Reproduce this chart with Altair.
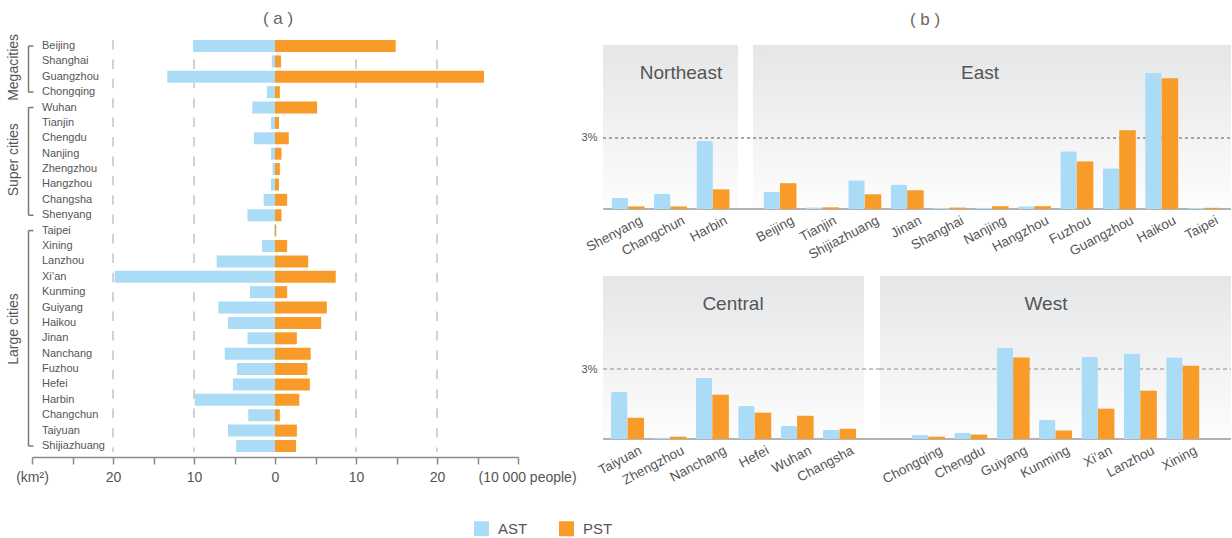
import altair as alt
import pandas as pd

# ---------------- panel (a) data ----------------
cities_a = ["Beijing", "Shanghai", "Guangzhou", "Chongqing", "Wuhan", "Tianjin", "Chengdu",
            "Nanjing", "Zhengzhou", "Hangzhou", "Changsha", "Shenyang", "Taipei", "Xining",
            "Lanzhou", "Xi’an", "Kunming", "Guiyang", "Haikou", "Jinan", "Nanchang", "Fuzhou",
            "Hefei", "Harbin", "Changchun", "Taiyuan", "Shijiazhuang"]
ast_area = [10.1, 0.4, 13.3, 1.0, 2.8, 0.5, 2.6, 0.5, 0.3, 0.5, 1.4, 3.4, 0.1, 1.6,
            7.2, 19.8, 3.1, 7.0, 5.8, 3.4, 6.2, 4.7, 5.2, 9.9, 3.3, 5.8, 4.8]
pst_people = [14.9, 0.75, 25.8, 0.6, 5.2, 0.5, 1.7, 0.8, 0.6, 0.5, 1.5, 0.8, 0.15, 1.5,
              4.1, 7.5, 1.5, 6.4, 5.7, 2.7, 4.4, 4.0, 4.3, 3.0, 0.6, 2.7, 2.6]
group_names = ["Megacities", "Super cities", "Large cities"]
group_first = ["Beijing", "Wuhan", "Taipei"]
group_last = ["Chongqing", "Shenyang", "Shijiazhuang"]
group_mid = ["Shanghai", "Nanjing", "Haikou"]
axis_a_ticks = [-30, -25, -20, -15, -10, -5, 0, 5, 10, 15, 20, 25, 30]
grid_a = [-20, -10, 10, 20]

# ---------------- panel (b) data ----------------
ne_cities = ["Shenyang", "Changchun", "Harbin"]
ne_ast = [0.48, 0.65, 2.87]
ne_pst = [0.11, 0.11, 0.83]
east_cities = ["Beijing", "Tianjin", "Shijiazhuang", "Jinan", "Shanghai", "Nanjing",
               "Hangzhou", "Fuzhou", "Guangzhou", "Haikou", "Taipei"]
east_ast = [0.72, 0.07, 1.21, 1.04, 0.05, 0.06, 0.12, 2.44, 1.72, 5.76, 0.04]
east_pst = [1.09, 0.07, 0.62, 0.79, 0.06, 0.12, 0.12, 2.01, 3.33, 5.52, 0.05]
central_cities = ["Taiyuan", "Zhengzhou", "Nanchang", "Hefei", "Wuhan", "Changsha"]
central_ast = [2.01, 0.06, 2.63, 1.41, 0.56, 0.40]
central_pst = [0.91, 0.10, 1.90, 1.13, 1.00, 0.44]
west_cities = ["Chongqing", "Chengdu", "Guiyang", "Kunming", "Xi’an", "Lanzhou", "Xining"]
west_ast = [0.17, 0.27, 3.90, 0.83, 3.51, 3.66, 3.50]
west_pst = [0.10, 0.19, 3.49, 0.36, 1.30, 2.07, 3.14]

types = ["AST", "PST"]
colors = ["#aadcf7", "#f89b28"]
TXT = "#555555"

color_scale = alt.Scale(domain=types, range=colors)
legend = alt.Legend(orient="none", legendX=442, legendY=486, direction="horizontal",
                    title=None, symbolType="square", symbolSize=225, symbolStrokeWidth=0,
                    labelFontSize=15, labelColor=TXT, labelOffset=9, columnPadding=31)
color_enc = alt.Color("type:N", scale=color_scale, legend=legend)

# ---------------- panel (a) ----------------
W_A, H_A = 486, 422
df_a = pd.DataFrame({
    "city": cities_a * 2,
    "type": ["AST"] * len(cities_a) + ["PST"] * len(cities_a),
    "value": [-v for v in ast_area] + pst_people,
})
xs_a = alt.Scale(domain=[-30, 30], nice=False, zero=False)
ys_a = alt.Scale(domain=cities_a, paddingInner=0.22, paddingOuter=0.325)
xaxis_a = alt.Axis(
    title=None, values=axis_a_ticks, grid=False,
    labelExpr="datum.value == -30 ? '(km²)' : (datum.value == 30 ? '(10 000 people)' : "
              "(datum.value % 10 == 0 ? format(abs(datum.value), 'd') : ''))",
    labelFlush=False, labelOverlap=False, labelFontSize=14, labelColor=TXT, labelPadding=6,
    labelOffset={"condition": {"test": "datum.value == 30", "value": 9}, "value": 0},
    domainColor="#8a8a8a", domainWidth=1.5, tickColor="#8a8a8a", tickWidth=1.5, tickSize=7)

grid_layer = alt.Chart(pd.DataFrame({"v": grid_a})).mark_rule(
    color="#d2d2d2", strokeWidth=2, strokeDash=[9.5, 9.9]).encode(
    x=alt.X("v:Q", scale=xs_a, axis=xaxis_a),
    y=alt.value(5), y2=alt.value(417))

bars_a = alt.Chart(df_a).mark_bar().encode(
    x=alt.X("value:Q", scale=xs_a, axis=xaxis_a),
    x2=alt.datum(0),
    y=alt.Y("city:N", scale=ys_a, sort=cities_a, axis=None),
    color=color_enc)

city_text = alt.Chart(pd.DataFrame({"city": cities_a})).mark_text(
    align="left", baseline="middle", fontSize=11, color=TXT).encode(
    x=alt.value(10), y=alt.Y("city:N", scale=ys_a, axis=None), text="city:N")

df_groups = pd.DataFrame({"name": group_names, "first": group_first, "last": group_last,
                          "mid": group_mid})
bracket_v = alt.Chart(df_groups).mark_rule(color="#7a7a7a", strokeWidth=1.5).encode(
    x=alt.value(-3.5), y=alt.Y("first:N", scale=ys_a, axis=None), y2="last:N")
bracket_h = alt.Chart(pd.DataFrame({"c": group_first + group_last})).mark_rule(
    color="#7a7a7a", strokeWidth=1.5).encode(
    x=alt.value(-3.5), x2=alt.value(1.5), y=alt.Y("c:N", scale=ys_a, axis=None))
group_text = alt.Chart(df_groups).mark_text(
    angle=270, align="center", baseline="middle", fontSize=14, color=TXT).encode(
    x=alt.value(-18), y=alt.Y("mid:N", scale=ys_a, axis=None, bandPosition=1), text="name:N")

panel_a = alt.layer(grid_layer, bars_a, city_text, bracket_v, bracket_h, group_text).properties(
    width=W_A, height=H_A,
    title=alt.TitleParams("( a )", fontSize=17, fontWeight="normal",
                          color="#666666", anchor="middle", frame="group", offset=6, dx=3))

# ---------------- panel (b) ----------------
gradient = alt.Gradient(gradient="linear",
                        stops=[alt.GradientStop(color="#e5e6e8", offset=0),
                               alt.GradientStop(color="#fdfdfd", offset=1)],
                        x1=0, x2=0, y1=0, y2=1)

LEFT_EXT = 45     # reserved room left of each row (for the 3% label)
LABEL_EXT = 52    # reserved room under each row (for rotated labels)


def region_panel(cities, ast, pst, name, width, height, ymax, pad_outer, gap, bg_top,
                 label_x, label_y, first_in_row, dash_color, dash):
    n = len(cities)
    df = pd.DataFrame({"city": cities * 2, "type": ["AST"] * n + ["PST"] * n,
                       "value": list(ast) + list(pst)})
    xs = alt.Scale(domain=cities, paddingInner=0.22, paddingOuter=pad_outer)
    ys = alt.Scale(domain=[0, ymax], nice=False, zero=False)
    xaxis = alt.Axis(title=None, labelAngle=-28, labelFontSize=13.5, labelColor=TXT,
                     ticks=False, domain=False, labelPadding=4, labelOffset=10)
    if first_in_row:
        yaxis = alt.Axis(title=None, values=[3], labelExpr="'3%'", domain=False, ticks=False,
                         grid=False, labelPadding=6, labelFontSize=11, labelColor=TXT)
    else:
        yaxis = None
    one = alt.Chart(pd.DataFrame({"region": [name]}))
    layers = []
    if first_in_row:
        frame = one.mark_rect(fillOpacity=0, strokeOpacity=0).encode(
            x=alt.value(-LEFT_EXT), x2=alt.value(width), y=alt.value(0),
            y2=alt.value(height + LABEL_EXT))
        layers.append(frame)
    bg = one.mark_rect(fill=gradient).encode(
        x=alt.value(0), x2=alt.value(width), y=alt.value(bg_top), y2=alt.value(height))
    lab = one.mark_text(fontSize=19, color=TXT, align="center", baseline="middle").encode(
        x=alt.value(label_x), y=alt.value(label_y), text="region:N")
    base = alt.Chart(df)
    enc = dict(
        x=alt.X("city:N", scale=xs, sort=cities, axis=xaxis),
        xOffset=alt.XOffset("type:N", scale=alt.Scale(domain=types, paddingInner=0,
                                                       paddingOuter=0)),
        y=alt.Y("value:Q", scale=ys, axis=yaxis),
        color=color_enc)
    ast_bars = base.transform_filter(alt.datum.type == "AST").mark_bar(
        cornerRadiusTopLeft=2, cornerRadiusTopRight=2).encode(**enc)
    pst_bars = base.transform_filter(alt.datum.type == "PST").mark_bar().encode(**enc)
    dash_rule = one.mark_rule(strokeDash=dash, color=dash_color, strokeWidth=1).encode(
        y=alt.YDatum(3, scale=ys, axis=yaxis), x=alt.value(0), x2=alt.value(width + gap))
    base_rule = one.mark_rule(color="#b3b3b3", strokeWidth=2).encode(
        y=alt.YDatum(0, scale=ys, axis=yaxis), x=alt.value(0), x2=alt.value(width + gap))
    layers += [bg, dash_rule, base_rule, ast_bars, pst_bars, lab]
    return alt.layer(*layers).properties(width=width, height=height)


H1, H2 = 174, 163
ne = region_panel(ne_cities, ne_ast, ne_pst, "Northeast", 135, H1, 174 / 23.67, 0.202, 15,
                  10, 78, 37.5, True, "#555555", [3, 3])
east = region_panel(east_cities, east_ast, east_pst, "East", 478, H1, 174 / 23.67, 0.245, 0,
                    10, 227, 37.5, False, "#555555", [3, 3])
central = region_panel(central_cities, central_ast, central_pst, "Central", 261, H2, 163 / 23.33,
                       0.188, 16, 0, 130, 28, True, "#8a8a8a", [4, 3])
west = region_panel(west_cities, west_ast, west_pst, "West", 351, H2, 163 / 23.33, 0.75, 0,
                    0, 166, 28, False, "#8a8a8a", [4, 3])

row1 = alt.hconcat(ne, east, spacing=15, bounds="flush")
row2 = alt.hconcat(central, west, spacing=16, bounds="flush")
panel_b = alt.vconcat(row1, row2, spacing=275 - (35 + H1 + LABEL_EXT),
                      title=alt.TitleParams("( b )", fontSize=17,
                                            fontWeight="normal", color="#666666", anchor="middle",
                                            frame="bounds", offset=6, dx=30))

chart = alt.hconcat(panel_a, panel_b, spacing=604 - 519, bounds="flush").properties(
    padding={"left": 6, "top": 9, "right": 0, "bottom": 0}
).configure(font="Liberation Sans").configure_view(strokeWidth=0)

chart.save("out.html", embed_options={"renderer": "svg", "actions": False})
